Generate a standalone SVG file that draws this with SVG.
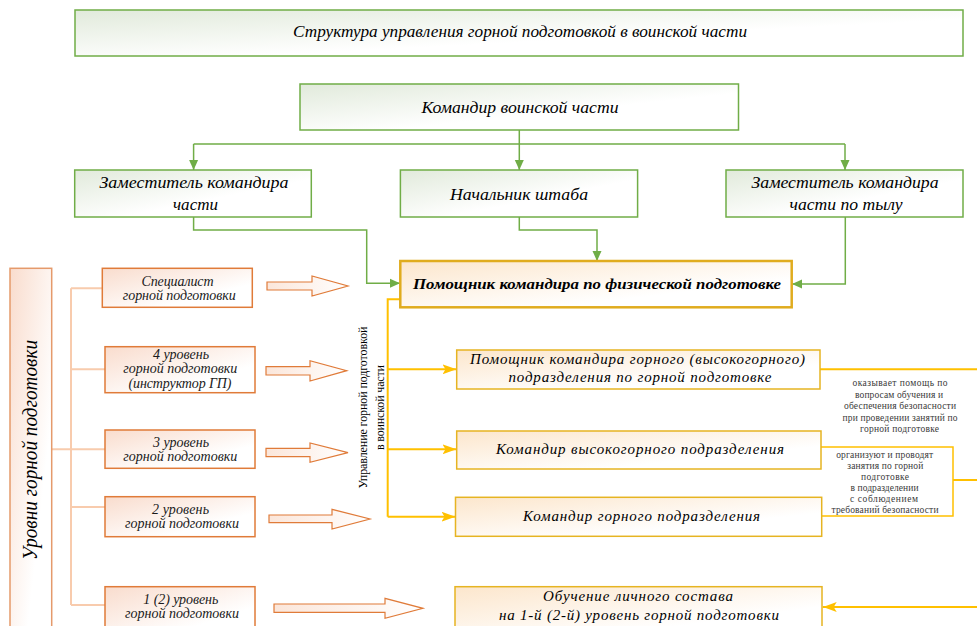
<svg xmlns="http://www.w3.org/2000/svg" width="977" height="626" viewBox="0 0 977 626">
<defs>
  <linearGradient id="gGreen" x1="0" y1="0" x2="1" y2="1">
    <stop offset="0" stop-color="#E1EADB"/>
    <stop offset="0.6" stop-color="#FFFFFF"/>
  </linearGradient>
  <linearGradient id="gOrange" x1="0" y1="0" x2="1" y2="1">
    <stop offset="0" stop-color="#F9DCCD"/>
    <stop offset="0.7" stop-color="#FFFFFF"/>
  </linearGradient>
  <linearGradient id="gYellow" x1="0" y1="0" x2="1" y2="1">
    <stop offset="0" stop-color="#FCE6CC"/>
    <stop offset="0.7" stop-color="#FFFFFF"/>
  </linearGradient>
  <linearGradient id="gArrow" x1="0" y1="0" x2="1" y2="0">
    <stop offset="0" stop-color="#FBE6DA"/>
    <stop offset="1" stop-color="#FFFFFF"/>
  </linearGradient>
  <marker id="mG" markerUnits="userSpaceOnUse" markerWidth="10" markerHeight="10" refX="10" refY="5" orient="auto">
    <path d="M0,0.5 L10,5 L0,9.5 z" fill="#70AD47"/>
  </marker>
  <marker id="mY" markerUnits="userSpaceOnUse" markerWidth="14" markerHeight="10" refX="14" refY="5" orient="auto">
    <path d="M0,0 L14,5 L0,10 L3,5 z" fill="#FFC000"/>
  </marker>
</defs>
<style>
  text{font-family:"Liberation Serif","Times New Roman",serif;fill:#000}
  .it{font-style:italic}
  .gbox{fill:url(#gGreen);stroke:#70AD47;stroke-width:1.5}
  .obox{fill:url(#gOrange);stroke:#E07B39;stroke-width:1.5}
  .ybox{fill:url(#gYellow);stroke:#E6B422;stroke-width:1.5}
  .gl{fill:none;stroke:#70AD47;stroke-width:1.5}
  .yl{fill:none;stroke:#FFC000;stroke-width:2}
  .ol{fill:none;stroke:#F8CBAD;stroke-width:2}
  .barrow{fill:url(#gArrow);stroke:#E07B39;stroke-width:1.2}
  .t16{font-size:16px}
  .t15{font-size:15px}
  .t13{font-size:14px;fill:#1A1A1A}
  .small{font-size:9.5px;fill:#3A3A3A}
</style>

<rect width="977" height="626" fill="#FFFFFF"/>

<!-- connectors -->
<g id="connectors">
  <path class="gl" d="M519.3,130 V144 M193.6,144 H845"/>
  <path class="gl" d="M193.6,144 V170" marker-end="url(#mG)"/>
  <path class="gl" d="M519.3,144 V170" marker-end="url(#mG)"/>
  <path class="gl" d="M845,144 V170" marker-end="url(#mG)"/>
  <path class="gl" d="M193.6,217 V230 H366.7 V283.3 H400" marker-end="url(#mG)"/>
  <path class="gl" d="M519.3,217 V230 H597 V261" marker-end="url(#mG)"/>
  <path class="gl" d="M845.3,217 V284 H792" marker-end="url(#mG)"/>

  <path class="yl" d="M400,299.3 H387.7 V516.7"/>
  <path class="yl" d="M387.7,369.3 H456.5" marker-end="url(#mY)"/>
  <path class="yl" d="M387.7,449.3 H456.5" marker-end="url(#mY)"/>
  <path class="yl" d="M387.7,516.7 H455.5" marker-end="url(#mY)"/>
  <path class="yl" d="M820,369.3 H977"/>
  <path class="yl" d="M953,480 H977"/>
  <path class="yl" d="M977,607 H822.7" marker-end="url(#mY)"/>

  <path class="ol" d="M51.7,449.3 H71 M71,288.3 V605 M71,288.3 H102.3 M71,369.3 H105 M71,449.3 H105 M71,507 H105 M71,605 H105"/>

  <path class="barrow" d="M267,282 H312 V276 L348,286 L312,296 V290 H267 Z"/>
  <path class="barrow" d="M266,366.7 H310 V360.7 L346.7,370.7 L310,381 V375 H266 Z"/>
  <path class="barrow" d="M266,448.3 H310 V443 L348,452.7 L310,462.3 V456.7 H266 Z"/>
  <path class="barrow" d="M269,515 H332 V509.3 L370,519 L332,529 V522.7 H269 Z"/>
  <path class="barrow" d="M274,604 H385 V598.3 L423,608.3 L385,618.3 V612.3 H274 Z"/>
</g>

<!-- top green nodes -->
<g id="title">
  <rect class="gbox" x="75" y="10" width="888" height="46"/>
  <text class="it t16" x="520" y="37" text-anchor="middle" textLength="454" lengthAdjust="spacingAndGlyphs">Структура управления горной подготовкой в воинской части</text>
</g>
<g id="commander">
  <rect class="gbox" x="300" y="84" width="438.5" height="46"/>
  <text class="it t16" x="520" y="112.5" text-anchor="middle" textLength="197" lengthAdjust="spacingAndGlyphs">Командир воинской части</text>
</g>
<g id="deputy">
  <rect class="gbox" x="74.7" y="170" width="236.6" height="47"/>
  <text class="it t16" x="194" y="188" text-anchor="middle" textLength="189" lengthAdjust="spacingAndGlyphs">Заместитель командира</text>
  <text class="it t16" x="195.5" y="210" text-anchor="middle" textLength="45" lengthAdjust="spacingAndGlyphs">части</text>
</g>
<g id="chief-of-staff">
  <rect class="gbox" x="400.4" y="170" width="237.2" height="47"/>
  <text class="it t16" x="519" y="200" text-anchor="middle" textLength="138" lengthAdjust="spacingAndGlyphs">Начальник штаба</text>
</g>
<g id="deputy-rear">
  <rect class="gbox" x="726" y="170" width="237" height="47"/>
  <text class="it t16" x="845" y="188" text-anchor="middle" textLength="187" lengthAdjust="spacingAndGlyphs">Заместитель командира</text>
  <text class="it t16" x="846" y="210" text-anchor="middle" textLength="113" lengthAdjust="spacingAndGlyphs">части по тылу</text>
</g>

<!-- physical training assistant -->
<g id="pt-assistant">
  <rect x="400.3" y="261" width="391.4" height="46.3" fill="url(#gYellow)" stroke="#E0AC1E" stroke-width="2.5"/>
  <text class="it t15" x="597" y="289" text-anchor="middle" font-weight="bold" textLength="368" lengthAdjust="spacingAndGlyphs">Помощник командира по физической подготовке</text>
</g>

<!-- levels column -->
<g id="levels">
  <rect x="10" y="268.3" width="41.7" height="370" fill="url(#gOrange)" stroke="#E59A6B" stroke-width="1.5"/>
  <text class="it" font-size="20" transform="rotate(-90 37 450)" x="37" y="450" text-anchor="middle" textLength="220" lengthAdjust="spacingAndGlyphs">Уровни горной подготовки</text>
</g>
<g id="specialist">
  <rect class="obox" x="102.3" y="268.3" width="150" height="39"/>
  <text class="it t13" x="177.5" y="286" text-anchor="middle" textLength="72" lengthAdjust="spacing">Специалист</text>
  <text class="it t13" x="179.3" y="299.5" text-anchor="middle" textLength="113" lengthAdjust="spacing">горной подготовки</text>
</g>
<g id="level4">
  <rect class="obox" x="105" y="346.7" width="150" height="46"/>
  <text class="it t13" x="181" y="359" text-anchor="middle" textLength="56" lengthAdjust="spacing">4 уровень</text>
  <text class="it t13" x="180.3" y="373" text-anchor="middle" textLength="114" lengthAdjust="spacing">горной подготовки</text>
  <text class="it t13" x="180" y="388" text-anchor="middle" textLength="103" lengthAdjust="spacing">(инструктор ГП)</text>
</g>
<g id="level3">
  <rect class="obox" x="105" y="430" width="150" height="38.3"/>
  <text class="it t13" x="181" y="447" text-anchor="middle" textLength="56" lengthAdjust="spacing">3 уровень</text>
  <text class="it t13" x="180.3" y="460.5" text-anchor="middle" textLength="114" lengthAdjust="spacing">горной подготовки</text>
</g>
<g id="level2">
  <rect class="obox" x="105" y="496.7" width="150" height="40"/>
  <text class="it t13" x="180.5" y="514" text-anchor="middle" textLength="57" lengthAdjust="spacing">2 уровень</text>
  <text class="it t13" x="182" y="528" text-anchor="middle" textLength="114" lengthAdjust="spacing">горной подготовки</text>
</g>
<g id="level1">
  <rect class="obox" x="105" y="586.7" width="150" height="50"/>
  <text class="it t13" x="180.8" y="604" text-anchor="middle" textLength="75" lengthAdjust="spacing">1 (2) уровень</text>
  <text class="it t13" x="182" y="618" text-anchor="middle" textLength="114" lengthAdjust="spacing">горной подготовки</text>
</g>

<!-- vertical label -->
<g id="management-label">
  <text font-size="12" transform="rotate(-90 367 407.5)" x="367" y="407.5" text-anchor="middle" textLength="162" lengthAdjust="spacing">Управление горной подготовкой</text>
  <text font-size="12" transform="rotate(-90 384 407.5)" x="384" y="407.5" text-anchor="middle" textLength="85" lengthAdjust="spacing">в воинской части</text>
</g>

<!-- right column -->
<g id="mountain-assistant">
  <rect class="ybox" x="456.7" y="350" width="363.3" height="39"/>
  <text class="it t15" x="637.5" y="364" text-anchor="middle" textLength="335" lengthAdjust="spacing">Помощник командира горного (высокогорного)</text>
  <text class="it t15" x="640" y="382" text-anchor="middle" textLength="263" lengthAdjust="spacing">подразделения по горной подготовке</text>
</g>
<g id="note1">
  <text class="small" x="900" y="386" text-anchor="middle" textLength="95" lengthAdjust="spacing">оказывает помощь   по</text>
  <text class="small" x="899" y="397.5" text-anchor="middle" textLength="88" lengthAdjust="spacing">вопросам обучения и</text>
  <text class="small" x="900" y="409" text-anchor="middle" textLength="112" lengthAdjust="spacing">обеспечения безопасности</text>
  <text class="small" x="900" y="420.5" text-anchor="middle" textLength="115" lengthAdjust="spacing">при проведении занятий по</text>
  <text class="small" x="899.5" y="431.5" text-anchor="middle" textLength="79" lengthAdjust="spacing">горной подготовке</text>
</g>
<g id="note2">
  <path d="M821,447 H953 V516 H821" fill="#FFFFFF" stroke="#FFC000" stroke-width="1.5"/>
  <text class="small" x="884.7" y="458" text-anchor="middle" textLength="97" lengthAdjust="spacing">организуют и проводят</text>
  <text class="small" x="885.3" y="469" text-anchor="middle" textLength="76" lengthAdjust="spacing">занятия по горной</text>
  <text class="small" x="885" y="480" text-anchor="middle" textLength="48" lengthAdjust="spacing">подготовке</text>
  <text class="small" x="884.5" y="490.5" text-anchor="middle" textLength="68" lengthAdjust="spacing">в подразделении</text>
  <text class="small" x="884" y="501.5" text-anchor="middle" textLength="68" lengthAdjust="spacing">с соблюдением</text>
  <text class="small" x="885" y="512.5" text-anchor="middle" textLength="107" lengthAdjust="spacing">требований безопасности</text>
</g>
<g id="highmountain-commander">
  <rect class="ybox" x="456.7" y="431" width="364.3" height="38"/>
  <text class="it t15" x="640" y="454" text-anchor="middle" textLength="288" lengthAdjust="spacing">Командир высокогорного подразделения</text>
</g>
<g id="mountain-commander">
  <rect class="ybox" x="455.5" y="497.3" width="366.2" height="39"/>
  <text class="it t15" x="641.5" y="521" text-anchor="middle" textLength="237" lengthAdjust="spacing">Командир горного подразделения</text>
</g>
<g id="training">
  <rect class="ybox" x="455" y="586.7" width="367" height="50"/>
  <text class="it t15" x="638" y="601" text-anchor="middle" textLength="190" lengthAdjust="spacing">Обучение личного состава</text>
  <text class="it t15" x="639" y="619.5" text-anchor="middle" textLength="280" lengthAdjust="spacing">на 1-й (2-й) уровень горной подготовки</text>
</g>
</svg>
